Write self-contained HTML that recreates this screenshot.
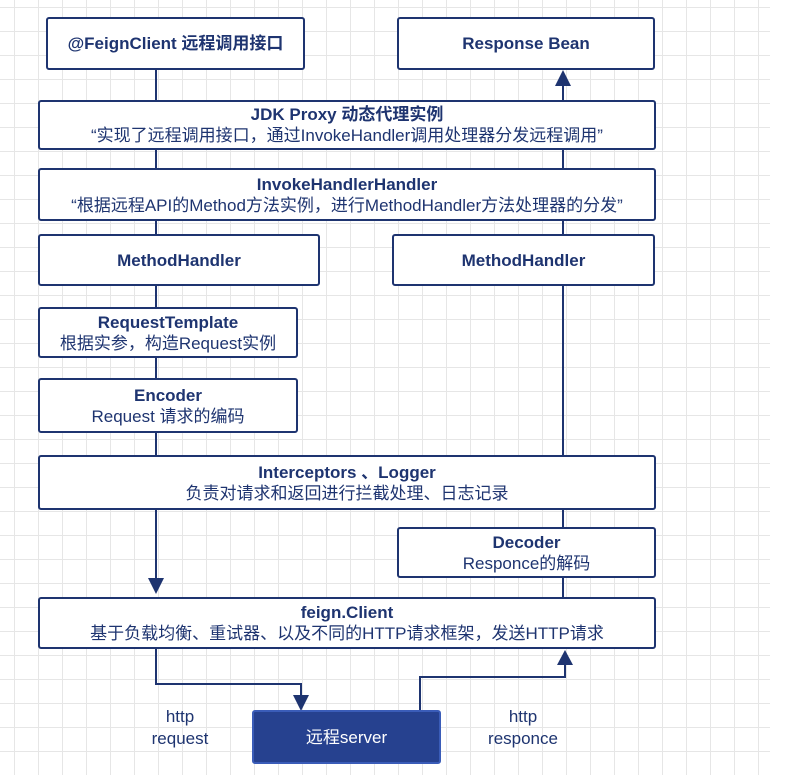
<!DOCTYPE html>
<html><head><meta charset="utf-8"><style>
body{margin:0;width:787px;height:780px;overflow:hidden;background:#fff;font-family:"Liberation Sans","Noto Sans CJK SC",sans-serif;}
.grid{position:absolute;left:0;top:0;width:770px;height:775px;
background-image:linear-gradient(#e6e6e6 1px,transparent 1px),linear-gradient(90deg,#e6e6e6 1px,transparent 1px);
background-size:24px 24px;background-position:14px 7px;}
.b{position:absolute;box-sizing:border-box;border:2px solid #1e3470;background:#fff;border-radius:3px;
display:flex;flex-direction:column;justify-content:center;align-items:center;color:#1e3470;font-size:17px;line-height:21px;text-align:center;white-space:nowrap;}
.b b{font-weight:bold;}
.t{position:absolute;color:#1e3470;font-size:17px;line-height:22px;text-align:center;}
</style></head><body>
<div class="grid"></div>
<svg width="787" height="780" style="position:absolute;left:0;top:0">
<g stroke="#1e3470" stroke-width="2" fill="none">
<line x1="156" y1="70" x2="156" y2="580"/>
<line x1="563" y1="597" x2="563" y2="84"/>
<polyline points="156,649 156,684 301,684 301,697"/>
<polyline points="420,710 420,677 565,677 565,664"/>
</g>
<g fill="#1e3470">
<polygon points="148,578 164,578 156,594"/>
<polygon points="555,86 571,86 563,70"/>
<polygon points="293,695 309,695 301,711"/>
<polygon points="557,665 573,665 565,650"/>
</g>
</svg>
<div class="b" style="left:46px;top:17px;width:259px;height:53px"><b>@FeignClient 远程调用接口</b></div>
<div class="b" style="left:397px;top:17px;width:258px;height:53px"><b>Response Bean</b></div>
<div class="b" style="left:38px;top:100px;width:618px;height:50px"><b>JDK Proxy 动态代理实例</b><span>“实现了远程调用接口，通过InvokeHandler调用处理器分发远程调用”</span></div>
<div class="b" style="left:38px;top:168px;width:618px;height:53px"><b>InvokeHandlerHandler</b><span>“根据远程API的Method方法实例，进行MethodHandler方法处理器的分发”</span></div>
<div class="b" style="left:38px;top:234px;width:282px;height:52px"><b>MethodHandler</b></div>
<div class="b" style="left:392px;top:234px;width:263px;height:52px"><b>MethodHandler</b></div>
<div class="b" style="left:38px;top:307px;width:260px;height:51px"><b>RequestTemplate</b><span>根据实参，构造Request实例</span></div>
<div class="b" style="left:38px;top:378px;width:260px;height:55px"><b>Encoder</b><span>Request 请求的编码</span></div>
<div class="b" style="left:38px;top:455px;width:618px;height:55px"><b>Interceptors 、Logger</b><span>负责对请求和返回进行拦截处理、日志记录</span></div>
<div class="b" style="left:397px;top:527px;width:259px;height:51px"><b>Decoder</b><span>Responce的解码</span></div>
<div class="b" style="left:38px;top:597px;width:618px;height:52px"><b>feign.Client</b><span>基于负载均衡、重试器、以及不同的HTTP请求框架，发送HTTP请求</span></div>
<div class="b" style="left:252px;top:710px;width:189px;height:54px;background:#26418f;border-color:#3a5cb8;color:#fff;font-size:17px">远程server</div>
<div class="t" style="left:130px;top:706px;width:100px">http<br>request</div>
<div class="t" style="left:473px;top:706px;width:100px">http<br>responce</div>
</body></html>
